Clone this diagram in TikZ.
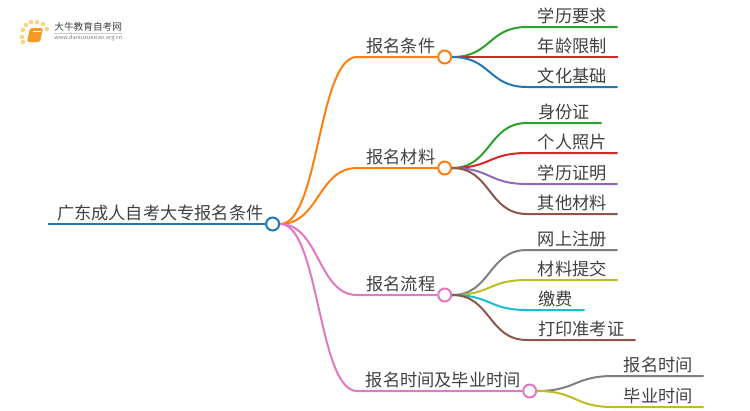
\documentclass[tikz,border=0pt]{standalone}
\usepackage{fontspec}
\setmainfont{Noto Sans CJK SC}
\usetikzlibrary{positioning,calc}
\definecolor{txt}{HTML}{404040}
\definecolor{corange}{HTML}{FF7F0E}
\definecolor{cgreen}{HTML}{2CA02C}
\definecolor{cred}{HTML}{D62728}
\definecolor{cblue}{HTML}{1F77B4}
\definecolor{cpurple}{HTML}{9467BD}
\definecolor{cbrown}{HTML}{8C564B}
\definecolor{cpink}{HTML}{E377C2}
\definecolor{cgray}{HTML}{7F7F7F}
\definecolor{colive}{HTML}{BCBD22}
\definecolor{ccyan}{HTML}{17BECF}
\definecolor{logoorange}{HTML}{F59B23}
\definecolor{logodot}{HTML}{FBD27E}
\tikzset{
  topic/.style ={anchor=south west, inner xsep=0pt, inner ysep=1pt, text=txt,
                 font=\fontsize{9.8pt}{11pt}\selectfont, text height=8.6pt, text depth=1.6pt},
  leaf/.style  ={topic, minimum width=1.8cm},
  knob/.style  ={circle, draw, fill=white, line width=0.04cm, minimum size=0.26cm, inner sep=0pt},
  link/.style  ={line width=0.04cm},
  sun/.style   ={circle, fill=logodot, inner sep=0pt, minimum size=0.09cm},
}
\newcommand{\limb}[3]{% from, to, colour
  \draw[link, #3] (#1) .. controls +(39,0) and +(-39,0) .. (#2.south west) -- (#2.south east);}
\begin{document}
\begin{tikzpicture}[x=0.02cm, y=-0.02cm]
    \useasboundingbox (0,0) rectangle (750,410);
    % logo
    \foreach \px/\py in {23/42,22/37,23/30,26/25,31/22,37/22,43/24,47/29}
      \node[sun] at (\px,\py) {};
    \fill[logoorange, rounded corners=1pt] (30,28) -- (43,28) -- (40,42) -- (27,42) -- cycle;
    \draw[white, line width=0.3pt] (33,31) -- (41,31);
    \node[anchor=west, inner sep=0pt, text=txt, font=\fontsize{5.5pt}{6pt}\selectfont] (logoname) at (54,27) {大牛教育自考网};
    \node[anchor=west, inner sep=0pt, text=cgray, font=\fontsize{3.2pt}{4pt}\selectfont] (logourl) at (54,38) {www.daniuxuexiao.org.cn};
    \draw[black!20, line width=0.3pt] (logoname.south west |- 0,33) -- (122,33);
    % root
    \node[topic, minimum width=4.48cm] (root) at (48,224) {广东成人自考大专报名条件};
    \node[knob, draw=cblue] (rootk) at (root.south east) {};
    \draw[link, cblue] (root.south west) -- (rootk.west);
    % branches
    \node[topic, minimum width=1.74cm] (cond) at (357,57) {报名条件};
    \node[topic, minimum width=1.74cm] (mat) at (357,168) {报名材料};
    \node[topic, minimum width=1.74cm] (proc) at (357,295) {报名流程};
    \node[topic, minimum width=3.44cm] (time) at (357,391) {报名时间及毕业时间};
    \node[knob, draw=corange] (condk) at (cond.south east) {};
    \node[knob, draw=corange] (matk) at (mat.south east) {};
    \node[knob, draw=cpink] (prock) at (proc.south east) {};
    \node[knob, draw=cpink] (timek) at (time.south east) {};
    \draw[link, corange] (rootk.east) .. controls +(39,0) and +(-39,0) .. (cond.south west) -- (condk.west);
    \draw[link, corange] (rootk.east) .. controls +(39,0) and +(-39,0) .. (mat.south west) -- (matk.west);
    \draw[link, cpink] (rootk.east) .. controls +(39,0) and +(-39,0) .. (proc.south west) -- (prock.west);
    \draw[link, cpink] (rootk.east) .. controls +(39,0) and +(-39,0) .. (time.south west) -- (timek.west);
    % conditions
    \node[leaf] (c1) at (527,27) {学历要求};
    \node[leaf] (c2) at (527,57) {年龄限制};
    \node[leaf] (c3) at (527,87) {文化基础};
    \limb{condk.east}{c1}{cgreen}
    \limb{condk.east}{c2}{cred}
    \limb{condk.east}{c3}{cblue}
    % materials
    \node[leaf, minimum width=1.48cm] (m1) at (527,123) {身份证};
    \node[leaf] (m2) at (527,153) {个人照片};
    \node[leaf] (m3) at (527,184) {学历证明};
    \node[leaf] (m4) at (527,214) {其他材料};
    \limb{matk.east}{m1}{cgreen}
    \limb{matk.east}{m2}{cred}
    \limb{matk.east}{m3}{cpurple}
    \limb{matk.east}{m4}{cbrown}
    % process
    \node[leaf] (p1) at (527,250) {网上注册};
    \node[leaf] (p2) at (527,280) {材料提交};
    \node[leaf, minimum width=1.14cm] (p3) at (527,310) {缴费};
    \node[leaf, minimum width=2.16cm] (p4) at (527,340) {打印准考证};
    \limb{prock.east}{p1}{cgray}
    \limb{prock.east}{p2}{colive}
    \limb{prock.east}{p3}{ccyan}
    \limb{prock.east}{p4}{cbrown}
    % dates
    \node[leaf] (t1) at (613,376) {报名时间};
    \node[leaf] (t2) at (613,407) {毕业时间};
    \limb{timek.east}{t1}{cgray}
    \limb{timek.east}{t2}{colive}
\end{tikzpicture}
\end{document}
